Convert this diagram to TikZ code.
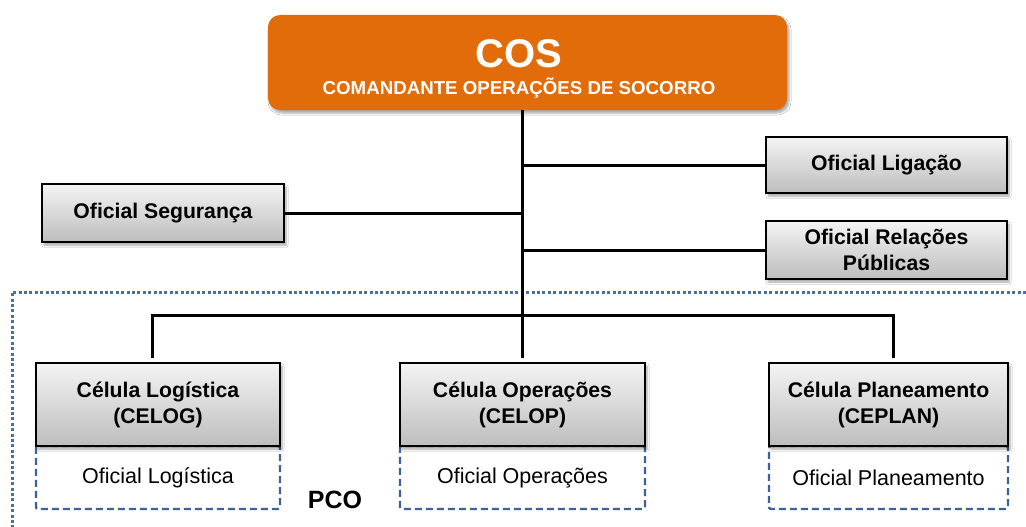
\documentclass[tikz,border=0pt]{standalone}
\usepackage{fontspec}
\setmainfont{Liberation Sans}
\usetikzlibrary{shadows.blur}
\definecolor{cosorange}{HTML}{E36C0A}
\definecolor{pcoblue}{HTML}{4A6FA5}
\definecolor{dashblue}{HTML}{3E6196}
\definecolor{grayTop}{HTML}{F4F4F4}
\definecolor{grayBot}{HTML}{BDBDBD}
\begin{document}
\begin{tikzpicture}[x=1pt,y=-1pt,
  softshadow/.style={blur shadow={shadow xshift=2pt, shadow yshift=-3pt,
      shadow blur steps=6, shadow opacity=35}},
  unit/.style={draw=black, line width=1.8pt, top color=grayTop, bottom color=grayBot,
      font=\fontsize{21.2}{26}\selectfont\bfseries, align=center, inner sep=0pt, softshadow},
  officer/.style={draw=dashblue, line width=2.4pt, dash pattern=on 7pt off 4pt,
      rounded corners=2pt, font=\fontsize{21.5}{24}\selectfont, inner sep=0pt},
  link/.style={line width=3pt, black},
]
% canvas
\path[fill=white, use as bounding box] (0,0) rectangle (1026,527);

% PCO frame (open towards the right and bottom)
\draw[pcoblue, line width=3pt, dash pattern=on 3pt off 2.4pt] (1026,292) -- (12,292) -- (12,527);

% commander
\node[draw=none, fill=cosorange, rounded corners=12pt, minimum width=519pt, minimum height=95pt,
      inner sep=0pt, softshadow] (cos) at (527.5,62.5) {};
\node[text=white, font=\fontsize{40}{40}\selectfont\bfseries, anchor=base, inner sep=0pt] (costitle) at (519,67) {COS};
\node[text=white, font=\fontsize{18.7}{20}\selectfont\bfseries, anchor=base, inner sep=0pt] (cossub) at (519,95) {COMANDANTE OPERAÇÕES DE SOCORRO};

% staff officers
\node[unit, minimum width=241pt, minimum height=56pt] (lig) at (886.5,165) {Oficial Ligação};
\node[unit, minimum width=241pt, minimum height=58pt] (rel) at (886.5,250) {Oficial Relações\\Públicas};
\node[unit, minimum width=242pt, minimum height=58pt] (seg) at (163,213) {Oficial Segurança};

% officer boxes below the cells
\node[officer, minimum width=244pt, minimum height=63pt] (oflog) at (158,477.5) {Oficial Logística};
\node[officer, minimum width=245pt, minimum height=63pt] (ofop) at (522.5,477.5) {Oficial Operações};
\node[officer, minimum width=239pt, minimum height=63pt] (ofplan) at (888.5,477.5) {Oficial Planeamento};

% cells
\node[unit, minimum width=244pt, minimum height=83pt] (celog) at (158,404.5) {Célula Logística\\(CELOG)};
\node[unit, minimum width=245pt, minimum height=83pt] (celop) at (522.5,404.5) {Célula Operações\\(CELOP)};
\node[unit, minimum width=239pt, minimum height=83pt] (ceplan) at (888.5,404.5) {Célula Planeamento\\(CEPLAN)};

\node[font=\fontsize{25}{25}\selectfont\bfseries, inner sep=0pt] (pco) at (335,500) {PCO};

% connectors
\draw[link, shorten >=4pt] (cos.south -| celop.north) -- (celop.north);
\draw[link] (lig.west) -- (lig.west -| celop.north);
\draw[link] (rel.west) -- (rel.west -| celop.north);
\draw[link] (seg.east) -- (seg.east -| celop.north);
\draw[link] ([xshift=-6pt,yshift=4pt]celog.north) -- ++(0,-43) -| ([xshift=4.5pt,yshift=4pt]ceplan.north);
\end{tikzpicture}
\end{document}
